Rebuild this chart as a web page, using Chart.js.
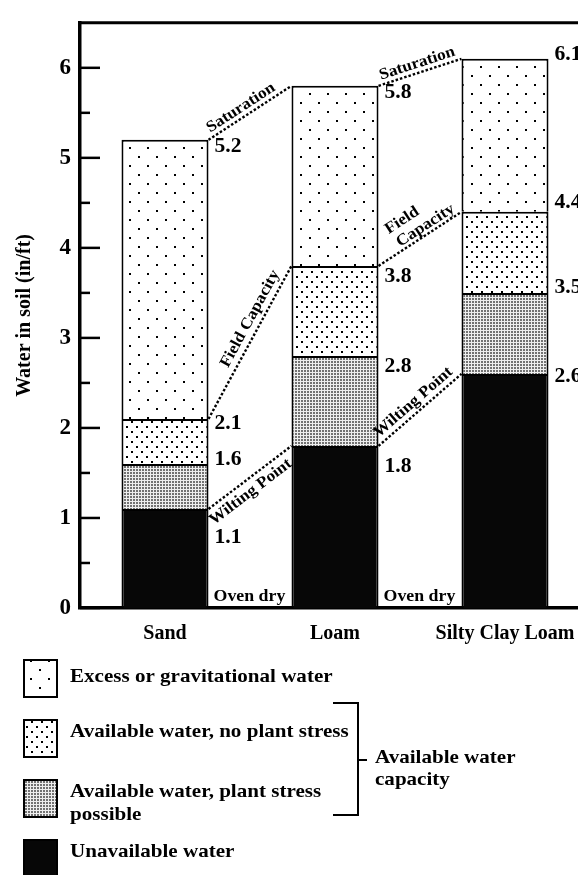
<!DOCTYPE html>
<html>
<head>
<meta charset="utf-8">
<script src="https://cdn.jsdelivr.net/npm/chart.js@4.4.1/dist/chart.umd.min.js"></script>
<style>
  html, body { margin: 0; padding: 0; background: #fff; overflow: hidden; }
  canvas { display: block; }
</style>
</head>
<body>
<canvas id="soilChart" width="590" height="875"></canvas>
<script>
// data (in/ft of water per soil layer)
var categories = ["Sand", "Loam", "Silty Clay Loam"];
var unavailable = [1.1, 1.8, 2.6];
var stressPossible = [0.5, 1.0, 0.9];
var noStress = [0.5, 1.0, 0.9];
var excess = [3.1, 2.0, 1.7];
var yTickLabels = ["0", "1", "2", "3", "4", "5", "6"];

var legendLabels = [
  ["Excess or gravitational water"],
  ["Available water, no plant stress"],
  ["Available water, plant stress", "possible"],
  ["Unavailable water"]
];
var bracketLabel = ["Available water", "capacity"];
var ovenDry = "Oven dry";

var SERIF = '"Liberation Serif", "Times New Roman", serif';
var SX = 1.08; // the scanned figure is a bit wider than tall

var canvas = document.getElementById("soilChart");
var ctx = canvas.getContext("2d");

function makePattern(w, h, bg, draw) {
  var c = document.createElement("canvas");
  c.width = w;
  c.height = h;
  var g = c.getContext("2d");
  g.fillStyle = bg;
  g.fillRect(0, 0, w, h);
  draw(g);
  return ctx.createPattern(c, "repeat");
}

var sparseDots = makePattern(18, 18, "#fff", function (g) {
  g.fillStyle = "#000";
  g.fillRect(3, 3, 2, 2);
  g.fillRect(12, 12, 2, 2);
});
var denseDots = makePattern(10, 10, "#fff", function (g) {
  g.fillStyle = "#000";
  g.fillRect(1, 1, 2, 2);
  g.fillRect(6, 6, 2, 2);
});
var greyMesh = makePattern(3, 3, "#727272", function (g) {
  g.fillStyle = "#eeeeee";
  g.fillRect(0, 0, 3, 1);
  g.fillRect(0, 0, 1, 3);
});
var fills = ["#070707", greyMesh, denseDots, sparseDots];

function drawText(c, text, x, y, size, align, baseline, angle) {
  c.save();
  c.translate(x, y);
  if (angle) c.rotate(angle);
  c.scale(SX, 1);
  c.font = "bold " + size + "px " + SERIF;
  c.textAlign = align || "left";
  c.textBaseline = baseline || "middle";
  c.fillStyle = "#000";
  c.fillText(text, 0, 0);
  c.restore();
}

// label nudges (px) for boundary numbers, per soil and per layer
var labelNudge = [[29, -4, 5, 7], [21, 11, 11, 7], [3, -5, -9, -4]];

var connectors = [
  { ds: 3, from: 0, lines: [{ text: "Saturation", t: 0.45, off: 5 }] },
  { ds: 3, from: 1, lines: [{ text: "Saturation", t: 0.5, off: 5 }] },
  { ds: 2, from: 0, lines: [{ text: "Field Capacity", t: 0.62, off: 7 }] },
  { ds: 2, from: 1, lines: [{ text: "Field", t: 0.45, off: 21 }, { text: "Capacity", t: 0.62, off: 4 }] },
  { ds: 0, from: 0, lines: [{ text: "Wilting Point", t: 0.42, off: -4, below: true }] },
  { ds: 0, from: 1, lines: [{ text: "Wilting Point", t: 0.5, off: 6 }] }
];

var soilDecor = {
  id: "soilDecor",
  afterDatasetsDraw: function (chart) {
    var c = chart.ctx;
    var area = chart.chartArea;
    var yScale = chart.scales.y;
    var series = [unavailable, stressPossible, noStress, excess];

    c.save();
    c.strokeStyle = "#000";
    c.lineWidth = 3;
    c.beginPath();
    c.moveTo(area.left - 1.5, area.top);
    c.lineTo(area.right, area.top);
    c.lineTo(area.right, area.bottom);
    c.stroke();

    // inward tick marks
    c.lineWidth = 2.5;
    yScale.ticks.forEach(function (t) {
      if (t.value > 6) return;
      var py = yScale.getPixelForValue(t.value);
      var len = Number.isInteger(t.value) ? 20 : 10;
      c.beginPath();
      c.moveTo(area.left, py);
      c.lineTo(area.left + len, py);
      c.stroke();
    });

    // dotted connector lines between boundaries
    connectors.forEach(function (cn) {
      var meta = chart.getDatasetMeta(cn.ds);
      var a = meta.data[cn.from], b = meta.data[cn.from + 1];
      var ax = a.x + a.width / 2, ay = a.y;
      var bx = b.x - b.width / 2, by = b.y;
      c.lineWidth = 2.4;
      c.setLineDash([2.5, 2]);
      c.beginPath();
      c.moveTo(ax, ay);
      c.lineTo(bx, by);
      c.stroke();
      c.setLineDash([]);
      var len = Math.hypot(bx - ax, by - ay);
      var dx = (bx - ax) / len, dy = (by - ay) / len;
      var nx = dy, ny = -dx;
      var ang = Math.atan2(dy, dx);
      cn.lines.forEach(function (ln) {
        var px = ax + (bx - ax) * ln.t + nx * ln.off;
        var py = ay + (by - ay) * ln.t + ny * ln.off;
        drawText(c, ln.text, px, py, 16, "center", ln.below ? "top" : "alphabetic", ang);
      });
    });

    // boundary values
    categories.forEach(function (cat, j) {
      var cum = 0;
      series.forEach(function (s, i) {
        cum += s[j];
        var el = chart.getDatasetMeta(i).data[j];
        drawText(c, cum.toFixed(1), el.x + el.width / 2 + 6, el.y + labelNudge[j][i], 20, "left", "middle");
      });
      if (j < categories.length - 1) {
        var el0 = chart.getDatasetMeta(0).data[j];
        drawText(c, ovenDry, el0.x + el0.width / 2 + 5, area.bottom - 7, 16.5, "left", "alphabetic");
      }
    });
    c.restore();
  },
  afterDraw: function (chart) {
    var c = chart.ctx;
    var swTop = [660, 720, 780, 840];
    var textY = [[677], [732], [792, 815], [852]];
    var legendFills = [sparseDots, denseDots, greyMesh, "#070707"];
    c.save();
    legendLabels.forEach(function (lines, i) {
      c.fillStyle = legendFills[i];
      c.fillRect(24, swTop[i], 33, 37);
      c.strokeStyle = "#000";
      c.lineWidth = 2;
      c.strokeRect(24, swTop[i], 33, 37);
      lines.forEach(function (t, k) {
        drawText(c, t, 70, textY[i][k], 19.5, "left", "middle");
      });
    });
    // bracket for available water capacity
    c.lineWidth = 2;
    c.beginPath();
    c.moveTo(333, 703);
    c.lineTo(358, 703);
    c.lineTo(358, 815);
    c.lineTo(333, 815);
    c.moveTo(358, 760);
    c.lineTo(367, 760);
    c.stroke();
    drawText(c, bracketLabel[0], 375, 758, 19.5, "left", "middle");
    drawText(c, bracketLabel[1], 375, 780, 19.5, "left", "middle");
    c.restore();
  }
};

var seriesNames = ["Unavailable water", "Available water, plant stress possible",
  "Available water, no plant stress", "Excess or gravitational water"];
var seriesData = [unavailable, stressPossible, noStress, excess];

var soilChart = new Chart(ctx, {
  type: "bar",
  data: {
    labels: categories,
    datasets: seriesData.map(function (d, i) {
      return {
        label: seriesNames[i],
        data: d,
        backgroundColor: fills[i],
        borderColor: "#000",
        borderWidth: 2,
        barPercentage: 0.512,
        categoryPercentage: 1
      };
    })
  },
  options: {
    responsive: false,
    animation: false,
    layout: { padding: { top: 10, left: 0, right: 0, bottom: 0 } },
    plugins: {
      legend: { display: false },
      tooltip: { enabled: false }
    },
    scales: {
      x: {
        stacked: true,
        grid: { display: false, drawTicks: false },
        border: { color: "#000", width: 3.5 },
        ticks: {
          color: "#000",
          font: { family: SERIF, size: 20, weight: "bold" },
          padding: 14
        },
        afterFit: function (s) { s.height = 267; }
      },
      y: {
        stacked: true,
        min: 0,
        max: 6.5,
        grid: { display: false, drawTicks: false },
        border: { color: "#000", width: 3.5 },
        ticks: {
          stepSize: 0.5,
          autoSkip: false,
          color: "#000",
          font: { family: SERIF, size: 23, weight: "bold" },
          padding: 9,
          callback: function (v) {
            return Number.isInteger(v) && v <= 6 ? yTickLabels[v] : "";
          }
        },
        title: {
          display: true,
          text: "Water in soil (in/ft)",
          color: "#000",
          font: { family: SERIF, size: 20, weight: "bold" },
          padding: { top: 13, bottom: 0 }
        },
        afterFit: function (s) { s.width = 80; }
      }
    }
  },
  plugins: [soilDecor]
});
</script>
</body>
</html>
